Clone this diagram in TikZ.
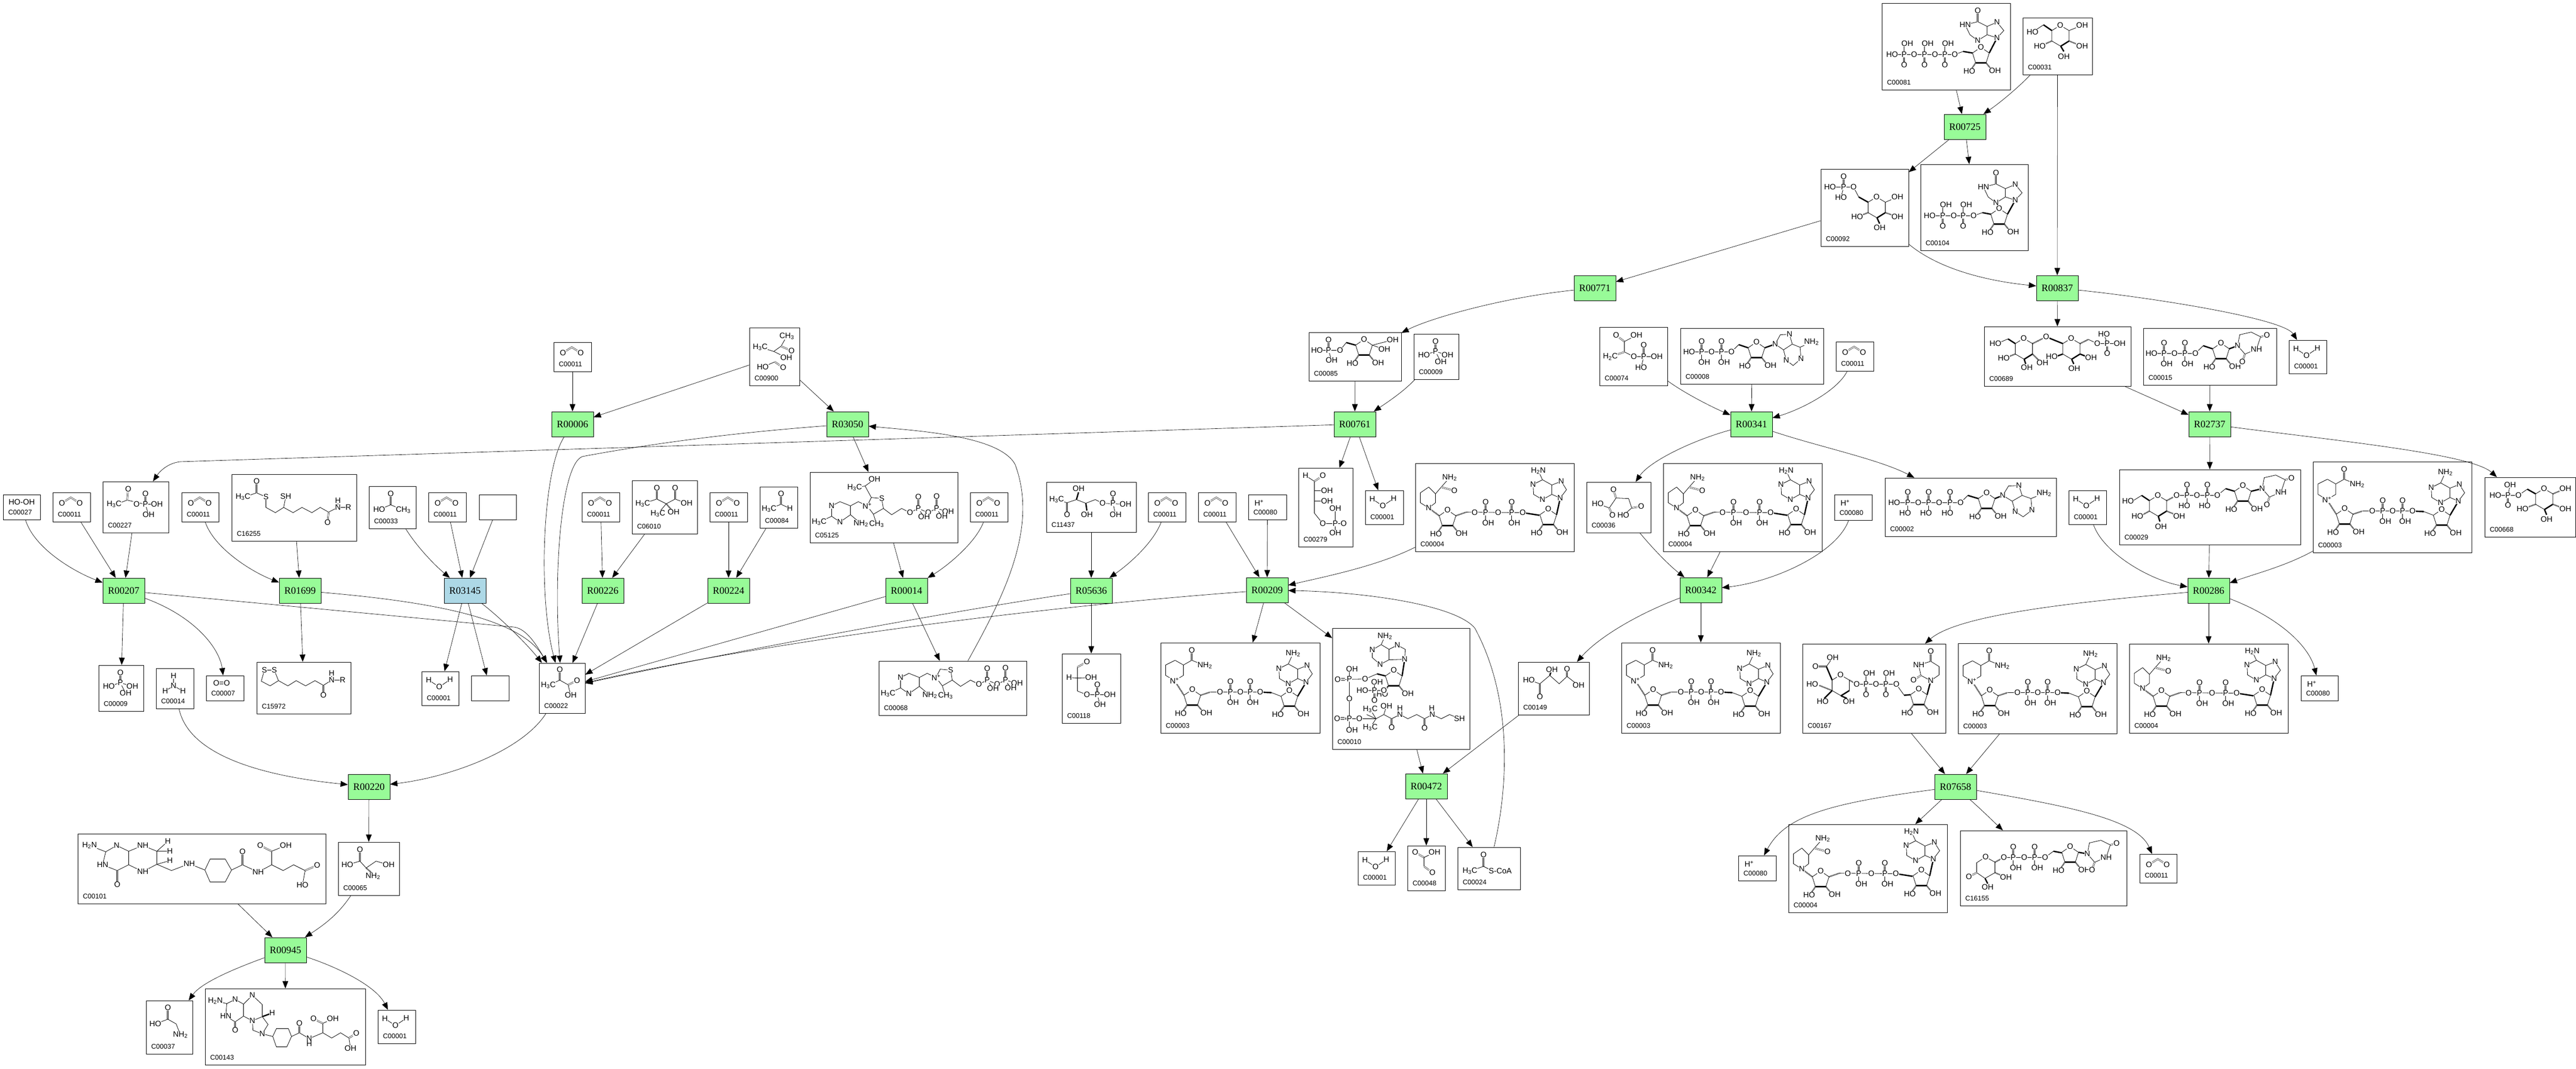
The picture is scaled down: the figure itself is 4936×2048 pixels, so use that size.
\documentclass[tikz,border=0pt]{standalone}
\usepackage{fontspec}
\setmainfont{Liberation Sans}
\newfontfamily\rfont{Liberation Serif}
\usetikzlibrary{arrows.meta,fit,calc}
\definecolor{rxngreen}{HTML}{98FB98}
\definecolor{rxnblue}{HTML}{ADD8E6}
\def\atm(#1)#2{\node[atom] at (#1) {#2};}
\def\bd#1{\draw[bond] plot coordinates {#1};}
\def\dbd#1{\draw[dbond] plot coordinates {#1};}
\def\wdg#1{\draw[wbond] plot coordinates {#1};}
\def\hsh#1{\draw[hbond] plot coordinates {#1};}
\newcommand{\NHtwo}{NH\textsubscript{2}}
\newcommand{\HtwoN}{H\textsubscript{2}N}
\newcommand{\HCthree}{H\textsubscript{3}C}
\newcommand{\CHthree}{CH\textsubscript{3}}
\newcommand{\cpd}[7]{%
  \node[cpd,fit={(#2,#3) (#4,#5)}] (#1) {};
  \node[cid] (#1id) at ($(#1.south west)+(10,-14)$) {#6};
  \pic at (#1.north west) {#7};}
\tikzset{
  cpd/.style={draw,rectangle,inner sep=0pt,line width=0.8pt},
  rxn/.style={draw,rectangle,fill=rxngreen,minimum width=80pt,minimum height=48pt,inner sep=0pt,
    line width=0.8pt,font=\rfont\fontsize{19}{19}\selectfont},
  cid/.style={anchor=west,inner sep=0pt,font=\fontsize{13}{13}\selectfont},
  atom/.style={fill=white,inner sep=0.4pt,font=\fontsize{15}{15}\selectfont},
  bond/.style={line width=0.8pt},
  dbond/.style={line width=0.6pt,double=white,double distance=1.6pt},
  wbond/.style={line width=2.6pt},
  hbond/.style={line width=2.6pt,dash pattern=on 0.7pt off 0.9pt},
  flow/.style={-{Triangle[length=14pt,width=11pt]},line width=0.65pt},
  % building blocks
  pho/.pic={\dbd{(0,0) (0,-20)}\bd{(0,0) (0,20)}\atm(0,0){P}\atm(0,-20){O}\atm(5,20){OH}},
  phoh/.pic={\dbd{(0,0) (0,-20)}\bd{(0,0) (0,20)}\atm(0,0){P}\atm(0,-20){O}\atm(-5,20){HO}},
  phoup/.pic={\dbd{(0,0) (0,20)}\bd{(0,0) (0,-20)}\atm(0,0){P}\atm(0,20){O}\atm(6,-21){OH}},
  ribose/.pic={\bd{(-16,11) (0,0) (16,11) (10,30)}\bd{(-10,30) (-16,11)}\wdg{(-10,30) (10,30)}
    \hsh{(-10,30) (-17,40)}\hsh{(10,30) (18,40)}\atm(0,0){O}\atm(-22,46){HO}\atm(27,45){OH}},
  hexose/.pic={\bd{(-16,10) (0,0) (17,10) (17,30)}\bd{(1,40) (-16,30) (-16,10)}\wdg{(17,30) (1,40)}\atm(0,0){O}},
  adenine/.pic={\bd{(0,0) (12,-16) (2,-32) (-16,-25) (-34,-35) (-52,-26) (-51,-7) (-34,3) (-16,-7) (0,0)}\bd{(-16,-7) (-16,-25)}
    \atm(0,0){N}\atm(2,-32){N}\atm(-52,-26){N}\atm(-34,3){N}},
  adenineR/.pic={\bd{(0,0) (11,-18) (31,-19) (37,0) (18,11) (0,0)}\bd{(37,0) (54,6) (56,28) (39,41) (24,31) (18,11)}\bd{(54,6) (79,-4)}
    \atm(0,0){N}\atm(31,-19){N}\atm(56,28){N}\atm(24,31){N}\atm(79,-4){\NHtwo}},
  hypox/.pic={\bd{(0,0) (13,-14) (0,-30) (-19,-22) (-37,-31) (-61,-25) (-52,-6) (-37,5) (-19,-6) (0,0)}\bd{(-19,-6) (-19,-22)}\dbd{(-37,-31) (-37,-52)}
    \atm(0,0){N}\atm(0,-30){N}\atm(-37,5){N}\atm(-61,-25){HN}\atm(-37,-52){O}},
  uracil/.pic={\bd{(0,0) (4,-21) (26,-26) (44,-17) (36,7) (14,16) (0,0)}\dbd{(44,-17) (56,-20)}\dbd{(14,16) (9,31)}
    \atm(0,0){N}\atm(36,7){NH}\atm(56,-20){O}\atm(9,31){O}},
  % small compounds
  mco2/.pic={\dbd{(22,18) (35,10) (48,18)}\atm(18,21){O}\atm(52,21){O}},
  mh2o/.pic={\bd{(14,17) (34,30) (55,16)}\atm(14,17){H}\atm(34,30){O}\atm(55,16){H}},
  mhp/.pic={\atm(21,16){H\textsuperscript{+}}},
  mhoh/.pic={\atm(36,15){HO-OH}},
  moo/.pic={\atm(30,15){O=O}},
  mnh3/.pic={\bd{(34,15) (34,34)}\bd{(18,44) (34,34) (52,44)}\atm(34,15){H}\atm(34,34){N}\atm(18,44){H}\atm(52,44){H}},
  mpi/.pic={\dbd{(42,15) (42,34)}\bd{(20,41) (42,34) (65,41)}\bd{(42,34) (52,54)}
    \atm(42,15){O}\atm(42,34){P}\atm(20,41){HO}\atm(65,41){OH}\atm(52,54){OH}},
  macp/.pic={\bd{(31,42) (47,36) (82,44) (104,44)}\dbd{(47,36) (49,15)}\dbd{(82,44) (82,24)}\bd{(82,44) (88,64)}
    \atm(49,15){O}\atm(22,44){\HCthree}\atm(65,44){O}\atm(82,44){P}\atm(82,24){O}\atm(104,44){OH}\atm(88,64){OH}},
  mlips/.pic={\bd{(31,42) (48,36) (66,44) (66,64) (84,74) (100,64) (118,74) (135,64) (154,74) (170,64) (186,73) (204,64) (224,64)}\dbd{(48,36) (48,14)}\bd{(100,64) (104,43)}\bd{(204,64) (204,51)}\dbd{(186,73) (184,93)}
    \atm(48,14){O}\atm(22,44){\HCthree}\atm(66,44){S}\atm(104,43){SH}\atm(204,51){H}\atm(204,64){N}\atm(224,64){R}\atm(184,93){O}},
  mlipo/.pic={\bd{(15,16) (34,16) (42,36) (26,46) (9,37) (15,16)}\bd{(42,36) (60,46) (76,36) (94,46) (112,36) (128,45) (144,35) (165,35)}\bd{(144,35) (144,22)}\dbd{(128,45) (128,64)}
    \atm(15,16){S}\atm(34,16){S}\atm(144,22){H}\atm(144,35){N}\atm(165,35){R}\atm(128,64){O}},
  mace/.pic={\dbd{(42,15) (42,36)}\bd{(20,45) (42,36) (66,46)}\atm(42,15){O}\atm(20,45){HO}\atm(66,46){\CHthree}},
  mpyr/.pic={\dbd{(40,13) (40,33)}\bd{(18,43) (40,33) (56,42) (61,62)}\dbd{(56,42) (73,34)}\atm(40,13){O}\atm(18,43){\HCthree}\atm(73,34){O}\atm(61,62){OH}},
  mact/.pic={\bd{(21,45) (48,36) (66,45) (83,36) (105,44)}\dbd{(48,36) (48,15)}\dbd{(83,36) (83,15)}\bd{(66,45) (50,64)}\hsh{(66,45) (80,61)}
    \atm(48,15){O}\atm(83,15){O}\atm(21,45){\HCthree}\atm(105,44){OH}\atm(50,64){\HCthree}\atm(80,61){OH}},
  mald/.pic={\bd{(18,43) (41,34) (58,42)}\dbd{(41,34) (41,14)}\atm(41,14){O}\atm(18,43){\HCthree}\atm(58,42){H}},
  mpyf/.pic={\bd{(21,38) (47,46) (61,36) (72,17)}\dbd{(61,36) (81,45)}\bd{(47,46) (71,58)}\bd{(26,76) (49,66)}\dbd{(49,66) (65,77)}
    \atm(72,17){\CHthree}\atm(21,38){\HCthree}\atm(81,45){O}\atm(71,58){OH}\atm(26,76){HO}\atm(65,77){O}},
  mtpp/.pic={\bd{(42,32) (58,24) (78,32) (78,49) (58,63) (42,52) (42,32)}\bd{(42,52) (18,63)}\bd{(78,49) (98,66)}\bd{(78,32) (93,24) (110,32)}
    \bd{(110,32) (118,16) (138,18) (141,37) (122,48) (110,32)}\bd{(122,48) (128,67)}\bd{(141,37) (157,49) (176,37) (192,45) (208,37) (227,45) (243,37) (265,43)}
    \dbd{(208,37) (208,15)}\dbd{(243,37) (243,14)}\bd{(208,37) (219,53)}\bd{(243,37) (253,52)}
    \atm(42,32){N}\atm(58,63){N}\atm(18,63){\HCthree}\atm(98,66){\NHtwo}\atm(110,32){N\textsuperscript{+}}\atm(138,18){S}\atm(128,67){\CHthree}
    \atm(192,45){O}\atm(208,37){P}\atm(208,15){O}\atm(227,45){O}\atm(243,37){P}\atm(243,14){O}\atm(219,53){OH}\atm(265,43){OH}\atm(253,52){OH}},
  mhet/.pic={\pic at (0,33) {mtpp};\bd{(118,49) (106,27) (124,14)}\bd{(106,27) (86,30)}\atm(124,14){OH}\atm(86,30){\HCthree}},
  mdxp/.pic={\bd{(20,34) (40,40) (58,34) (76,41) (94,34) (108,41) (152,43)}\dbd{(40,40) (40,63)}\wdg{(58,34) (62,20)}\wdg{(76,41) (78,55)}\dbd{(128,41) (128,23)}\bd{(128,41) (133,63)}
    \atm(20,34){\HCthree}\atm(40,63){O}\atm(62,13){OH}\atm(78,63){OH}\atm(108,41){O}\atm(128,41){P}\atm(128,23){O}\atm(152,43){OH}\atm(133,63){OH}},
  mgap/.pic={\bd{(30,47) (30,26)}\dbd{(30,26) (48,16)}\bd{(14,46) (30,47) (56,46)}\bd{(30,47) (30,72) (48,79) (92,79)}\dbd{(68,79) (68,60)}\bd{(68,79) (73,98)}
    \atm(48,16){O}\atm(14,46){H}\atm(56,46){OH}\atm(48,79){O}\atm(68,79){P}\atm(68,60){O}\atm(92,79){OH}\atm(73,98){OH}},
  mf6p/.pic={\pic at (106,14) {ribose};\bd{(122,25) (145,33)}\bd{(122,25) (161,15)}\wdg{(90,25) (72,20)}\bd{(72,20) (60,35) (16,35)}\dbd{(38,35) (38,15)}\bd{(38,35) (44,54)}
    \atm(161,15){OH}\atm(145,33){OH}\atm(60,35){O}\atm(38,35){P}\atm(38,15){O}\atm(16,35){HO}\atm(44,54){OH}},
  mr5p/.pic={\bd{(31,26) (31,87) (47,107) (87,107)}\bd{(14,15) (31,26)}\dbd{(31,26) (47,15)}\bd{(31,44) (55,44)}\bd{(31,64) (55,64)}\bd{(71,107) (71,78)}\bd{(71,107) (71,125)}
    \atm(14,15){H}\atm(47,15){O}\atm(55,44){OH}\atm(55,64){OH}\atm(47,107){O}\atm(71,107){P}\atm(71,78){OH}\atm(87,107){O}\atm(71,125){OH}},
  mpep/.pic={\dbd{(48,28) (32,16)}\bd{(48,28) (71,16)}\bd{(48,28) (48,48) (66,57) (110,57)}\dbd{(48,48) (21,57)}\dbd{(85,57) (85,35)}\bd{(85,57) (80,78)}
    \atm(32,16){O}\atm(71,16){OH}\atm(21,57){H\textsubscript{2}C}\atm(66,57){O}\atm(85,57){P}\atm(85,35){O}\atm(110,57){OH}\atm(80,78){HO}},
  moxa/.pic={\bd{(22,42) (44,50) (57,31) (81,32) (87,50) (71,64)}\dbd{(57,31) (52,15)}\dbd{(44,50) (50,64)}\dbd{(87,50) (105,47)}
    \atm(52,15){O}\atm(22,42){HO}\atm(50,64){O}\atm(105,47){O}\atm(71,64){HO}},
  mmal/.pic={\bd{(21,35) (42,42) (61,26) (79,42) (94,28) (116,45)}\dbd{(42,42) (42,67)}\wdg{(61,26) (64,17)}\dbd{(94,28) (94,14)}
    \atm(65,15){OH}\atm(94,14){O}\atm(21,35){HO}\atm(42,67){O}\atm(116,45){OH}},
  mgly/.pic={\dbd{(15,13) (32,23)}\bd{(52,13) (32,23) (32,40)}\dbd{(32,40) (48,52)}\atm(15,13){O}\atm(52,13){OH}\atm(48,52){O}},
  mcoa/.pic={\dbd{(50,37) (50,15)}\bd{(24,46) (50,37) (68,46)}\atm(50,15){O}\atm(24,46){\HCthree}\atm(82,46){S-CoA}},
  mcoash/.pic={\bd{(94,32) (77,42) (77,57) (92,70) (109,61) (109,41) (94,32)}\bd{(109,41) (125,33) (140,41) (139,60) (109,61)}\bd{(94,32) (101,16)}
    \pic at (118,81) {ribose};\wdg{(134,92) (139,60)}
    \wdg{(102,92) (86,88)}\bd{(86,88) (63,98) (15,99)}\bd{(33,79) (33,196)}\dbd{(14,174) (33,174)}\bd{(33,174) (84,174) (66,166)}
    \bd{(99,120) (58,120)}\bd{(81,104) (81,120)}\dbd{(81,120) (81,139)}\bd{(108,111) (99,120)}
    \bd{(84,174) (73,156)}\bd{(84,174) (73,191)}\bd{(84,174) (99,166) (114,174) (130,166) (145,174) (162,166) (177,174) (192,166) (209,174) (225,166) (244,174)}\dbd{(114,174) (114,191)}\dbd{(177,174) (177,192)}\bd{(99,166) (104,150)}
    \atm(101,16){\NHtwo}\atm(77,42){N}\atm(92,70){N}\atm(125,33){N}\atm(139,60){N}
    \atm(38,79){OH}\atm(33,98){P}\atm(15,99){O=}\atm(63,98){O}\atm(33,136){O}\atm(33,174){P}\atm(14,174){O=}\atm(38,196){OH}\atm(52,174){O}
    \atm(99,120){O}\atm(81,120){P}\atm(58,120){HO}\atm(86,104){OH}\atm(81,139){O}
    \atm(73,156){\HCthree}\atm(73,191){\HCthree}\atm(104,150){OH}\atm(114,191){O}\atm(130,166){N}\atm(130,154){H}\atm(177,192){O}\atm(192,166){N}\atm(191,154){H}\atm(244,174){SH}},
  % nucleotides
  mnad/.pic={\bd{(28,34) (44,43) (44,63) (27,73) (10,63) (10,43) (28,34)}\bd{(44,43) (60,34) (85,44)}\dbd{(60,34) (60,15)}\hsh{(27,73) (45,101)}
    \pic at (61,90) {ribose};\hsh{(77,101) (95,95)}\bd{(95,95) (191,95)}\wdg{(191,95) (213,96)}\bd{(213,96) (231,103)}
    \pic at (134,95) {pho};\pic at (172,95) {pho};\pic at (247,92) {ribose};\wdg{(263,103) (279,76)}\pic at (279,76) {adenine};\bd{(245,41) (254,21)}
    \atm(27,73){N\textsuperscript{+}}\atm(60,15){O}\atm(85,44){\NHtwo}\atm(114,95){O}\atm(153,95){O}\atm(191,95){O}\atm(254,21){\NHtwo}},
  mnadh/.pic={\bd{(26,46) (39,59) (39,76) (26,86) (10,76) (10,57) (26,46)}\bd{(39,59) (50,46) (66,28)}\dbd{(50,46) (75,53)}\hsh{(26,86) (46,101)}
    \pic at (62,90) {ribose};\hsh{(78,101) (98,94)}\bd{(98,94) (206,95)}\wdg{(206,95) (238,100)}
    \pic at (135,95) {pho};\pic at (185,95) {pho};\pic at (255,88) {ribose};\wdg{(271,99) (278,67)}\pic at (278,67) {adenine};\bd{(244,32) (236,15)}
    \atm(26,86){N}\atm(75,53){O}\atm(66,28){\NHtwo}\atm(114,95){O}\atm(159,95){O}\atm(206,95){O}\atm(236,15){\HtwoN}},
  matp/.pic={\bd{(18,48) (145,48) (159,34)}\wdg{(159,34) (179,40)}\pic at (44,48) {phoh};\pic at (84,48) {phoh};\pic at (125,48) {phoh};
    \pic at (195,29) {ribose};\wdg{(211,40) (226,34)}\pic at (226,34) {adenineR};
    \atm(18,48){HO}\atm(64,48){O}\atm(104,48){O}\atm(145,48){O}},
  madp/.pic={\bd{(17,46) (98,46) (112,32)}\wdg{(112,32) (130,38)}\pic at (41,46) {pho};\pic at (79,46) {pho};
    \pic at (146,27) {ribose};\wdg{(162,38) (182,31)}\pic[xscale=0.88] at (182,31) {adenineR};
    \atm(17,46){HO}\atm(60,46){O}\atm(98,46){O}},
  mudp/.pic={\bd{(16,49) (100,49) (115,34)}\wdg{(115,34) (133,40)}\pic at (40,49) {pho};\pic at (80,49) {pho};
    \pic at (149,29) {ribose};\wdg{(165,40) (181,34)}\pic at (181,34) {uracil};
    \atm(16,49){HO}\atm(60,49){O}\atm(100,49){O}},
  mudpg/.pic={\pic at (74,50) {hexose};\wdg{(58,60) (43,50)}\bd{(43,50) (27,60)}\hsh{(58,80) (45,87)}\wdg{(75,90) (78,100)}\hsh{(91,80) (108,87)}
    \hsh{(91,60) (110,50)}\bd{(110,50) (188,50) (204,37)}\wdg{(204,37) (221,42)}\pic at (130,50) {phoh};\pic at (169,50) {phoh};
    \pic at (237,31) {ribose};\wdg{(253,42) (274,37)}\pic at (274,37) {uracil};
    \atm(17,61){HO}\atm(35,90){HO}\atm(115,90){OH}\atm(80,110){OH}\atm(110,50){O}\atm(149,50){O}\atm(188,50){O}},
  mudpgl/.pic={\pic at (73,60) {hexose};\wdg{(57,70) (46,44)}\dbd{(46,44) (25,44)}\bd{(46,44) (58,27)}\hsh{(57,90) (32,80)}\wdg{(57,90) (42,105)}\wdg{(74,100) (85,105)}
    \hsh{(90,70) (104,78)}\bd{(104,78) (180,78) (195,99)}\pic at (122,78) {phoup};\pic at (160,78) {phoup};\wdg{(195,99) (207,98)}
    \pic at (223,87) {ribose};\wdg{(239,98) (246,71)}\bd{(246,71) (262,60) (262,44) (246,34) (223,41) (227,61) (246,71)}\dbd{(246,34) (246,15)}\dbd{(227,61) (213,70)}
    \atm(25,44){O}\atm(58,27){OH}\atm(19,78){HO}\atm(39,111){HO}\atm(89,111){OH}\atm(104,78){O}\atm(141,78){O}\atm(180,78){O}
    \atm(246,71){N}\atm(246,15){O}\atm(223,41){NH}\atm(213,70){O}},
  mudpk/.pic={\bd{(49,51) (67,61) (67,81) (48,92) (32,81) (32,62) (49,51)}\dbd{(32,81) (17,89)}\wdg{(48,92) (53,102)}\hsh{(67,81) (88,90)}
    \hsh{(67,61) (84,52)}\bd{(84,52) (163,52) (179,40)}\wdg{(179,40) (195,43)}\pic at (102,52) {pho};\pic at (143,52) {pho};
    \pic at (211,31) {ribose};\wdg{(227,42) (244,45)}\pic at (244,45) {uracil};
    \atm(49,51){O}\atm(17,89){O}\atm(53,109){OH}\atm(88,90){OH}\atm(84,52){O}\atm(123,52){O}\atm(163,52){O}},
  mitp/.pic={\bd{(20,99) (140,99) (156,93)}\wdg{(156,93) (174,96)}\pic at (43,99) {phoup};\pic at (82,99) {phoup};\pic at (121,99) {phoup};
    \pic at (190,85) {ribose};\wdg{(206,96) (221,67)}\pic at (221,67) {hypox};
    \atm(20,99){HO}\atm(62,99){O}\atm(102,99){O}\atm(140,99){O}},
  midp/.pic={\bd{(18,99) (102,99) (119,93)}\wdg{(119,93) (135,96)}\pic at (43,99) {phoup};\pic at (82,99) {phoup};
    \pic at (151,85) {ribose};\wdg{(167,96) (182,69)}\pic at (182,69) {hypox};
    \atm(18,99){HO}\atm(64,99){O}\atm(102,99){O}},
  % sugars
  mglc/.pic={\pic at (72,15) {hexose};\wdg{(56,25) (40,14)}\bd{(40,14) (19,28)}\bd{(89,25) (114,15)}\hsh{(89,45) (114,55)}\wdg{(73,55) (79,65)}\hsh{(56,45) (33,55)}
    \atm(19,28){HO}\atm(114,15){OH}\atm(114,55){OH}\atm(33,55){HO}\atm(79,75){OH}},
  mg6p/.pic={\pic at (107,54) {hexose};\wdg{(91,64) (73,54)}\bd{(73,54) (63,35) (18,35)}\dbd{(44,35) (44,15)}\bd{(44,35) (39,55)}\bd{(124,64) (147,54)}\hsh{(124,84) (147,92)}\wdg{(108,94) (113,105)}\hsh{(91,84) (70,92)}
    \atm(44,15){O}\atm(44,35){P}\atm(18,35){HO}\atm(63,35){O}\atm(39,55){HO}\atm(147,54){OH}\atm(147,92){OH}\atm(113,113){OH}\atm(70,92){HO}},
  mm6p/.pic={\pic at (114,22) {hexose};\wdg{(98,32) (82,23)}\bd{(82,23) (65,35) (21,35)}\bd{(45,35) (49,15)}\dbd{(45,35) (45,54)}\hsh{(131,32) (155,22)}\hsh{(131,52) (155,61)}\wdg{(115,62) (119,72)}\hsh{(98,52) (73,61)}
    \atm(49,15){OH}\atm(45,35){P}\atm(21,35){HO}\atm(65,35){O}\atm(45,54){O}\atm(155,22){OH}\atm(155,61){OH}\atm(119,81){OH}\atm(73,61){HO}},
  mt6p/.pic={\pic at (76,23) {hexose};\wdg{(60,33) (46,24)}\bd{(46,24) (32,30)}\hsh{(60,53) (47,58)}\wdg{(77,63) (80,72)}\hsh{(93,53) (105,65)}\hsh{(93,33) (119,20)}\wdg{(119,20) (151,33)}
    \pic at (167,23) {hexose};\hsh{(184,33) (200,25)}\bd{(200,25) (217,33) (260,33)}\bd{(236,33) (230,15)}\dbd{(236,33) (236,52)}\wdg{(151,53) (140,57)}\wdg{(184,53) (197,58)}\wdg{(168,63) (172,72)}
    \atm(22,33){HO}\atm(38,61){HO}\atm(82,79){OH}\atm(112,70){OH}\atm(119,20){O}\atm(130,58){HO}\atm(205,60){OH}\atm(173,81){OH}\atm(217,33){O}\atm(236,33){P}\atm(230,15){HO}\atm(260,33){OH}\atm(236,52){O}},
  % folates and amino acids
  mthf/.pic={\bd{(23,23) (54,35) (75,23) (98,34) (98,60) (76,71) (48,60) (54,35)}\bd{(98,34) (125,23) (152,34) (152,59) (125,73) (98,60)}\dbd{(76,71) (76,98)}\bd{(152,34) (173,15)}\bd{(152,34) (177,34)}\bd{(152,59) (177,52)}\bd{(152,59) (180,71) (214,58) (244,70)}
    \bd{(244,70) (254,49) (283,49) (295,70) (283,93) (254,93) (244,70)}\bd{(295,70) (316,60) (346,74) (372,60) (394,71) (414,60) (436,71) (431,99)}\dbd{(316,60) (316,35)}\bd{(372,60) (372,34) (399,23)}\dbd{(372,34) (350,23)}\dbd{(436,71) (459,61)}
    \atm(23,23){\HtwoN}\atm(75,23){N}\atm(48,60){HN}\atm(76,98){O}\atm(125,23){NH}\atm(125,73){NH}\atm(173,15){H}\atm(177,34){H}\atm(177,52){H}\atm(214,58){NH}\atm(316,35){O}\atm(346,74){NH}\atm(350,23){O}\atm(399,23){OH}\atm(459,61){O}\atm(431,99){HO}},
  mmthf/.pic={\bd{(20,24) (42,29) (58,21) (74,30) (74,53) (58,64) (40,53) (42,29)}\bd{(74,30) (91,13) (110,31) (110,54) (91,62) (74,53)}\dbd{(58,64) (58,80)}\wdg{(110,54) (129,47)}\bd{(91,62) (92,80) (110,87) (121,69) (110,54)}\bd{(110,87) (130,92)}
    \bd{(130,92) (137,77) (160,77) (166,92) (157,112) (137,112) (130,92)}\bd{(166,92) (181,85) (200,96) (226,85) (243,95) (260,85) (276,95) (279,115)}\dbd{(181,85) (181,67)}\bd{(226,85) (226,67) (245,58)}\dbd{(226,67) (208,58)}\dbd{(276,95) (290,86)}
    \atm(20,24){\HtwoN}\atm(58,21){N}\atm(40,53){HN}\atm(58,80){O}\atm(91,13){N}\atm(129,47){H}\atm(91,62){N}\atm(110,87){N}\atm(181,67){O}\atm(200,96){N}\atm(200,106){H}\atm(208,58){O}\atm(245,58){OH}\atm(290,86){O}\atm(279,115){OH}},
  mser/.pic={\dbd{(42,15) (42,37)}\bd{(18,44) (42,37) (54,50) (73,37) (97,44)}\hsh{(54,50) (65,60)}\atm(42,15){O}\atm(18,44){HO}\atm(67,66){\NHtwo}\atm(97,44){OH}},
  mglyc/.pic={\dbd{(42,14) (42,36)}\bd{(18,45) (42,36) (58,45) (66,66)}\atm(42,14){O}\atm(18,45){HO}\atm(66,66){\NHtwo}}
}
\begin{document}
\begin{tikzpicture}[x=1pt,y=-1pt]
  \useasboundingbox (0,0) rectangle (4936,2048);
  % reactions
  \node[rxn] (r00725) at (3765,243) {R00725};
  \node[rxn] (r00771) at (3056,552) {R00771};
  \node[rxn] (r00837) at (3942,552) {R00837};
  \node[rxn] (r02737) at (4234,813) {R02737};
  \node[rxn] (r00006) at (1097,813) {R00006};
  \node[rxn] (r03050) at (1624,813) {R03050};
  \node[rxn] (r00761) at (2596,813) {R00761};
  \node[rxn] (r00341) at (3356,813) {R00341};
  \node[rxn] (r00207) at (237,1132) {R00207};
  \node[rxn] (r01699) at (575,1132) {R01699};
  \node[rxn,fill=rxnblue] (r03145) at (891,1132) {R03145};
  \node[rxn] (r00226) at (1155,1132) {R00226};
  \node[rxn] (r00224) at (1396,1132) {R00224};
  \node[rxn] (r00014) at (1737,1132) {R00014};
  \node[rxn] (r05636) at (2091,1132) {R05636};
  \node[rxn] (r00209) at (2428,1131) {R00209};
  \node[rxn] (r00342) at (3259,1131) {R00342};
  \node[rxn] (r00286) at (4232,1132) {R00286};
  \node[rxn] (r00472) at (2733,1507) {R00472};
  \node[rxn] (r07658) at (3747,1508) {R07658};
  \node[rxn] (r00220) at (707,1508) {R00220};
  \node[rxn] (r00945) at (547,1821) {R00945};
  % compounds
  \cpd{c00081}{3606}{6}{3852}{172}{C00081}{mitp}
  \cpd{c00031}{3876}{34}{4009}{143}{C00031}{mglc}
  \cpd{c00092}{3489}{324}{3657}{472}{C00092}{mg6p}
  \cpd{c00104}{3680}{315}{3886}{480}{C00104}{midp}
  \cpd{c00689}{3802}{626}{4083}{740}{C00689}{mt6p}
  \cpd{c00015}{4107}{629}{4362}{738}{C00015}{mudp}
  \cpd{c00001d}{4386}{652}{4458}{716}{C00001}{mh2o}
  \cpd{c00085}{2508}{637}{2685}{730}{C00085}{mf6p}
  \cpd{c00009b}{2709}{640}{2795}{727}{C00009}{mpi}
  \cpd{c00074}{3065}{627}{3195}{739}{C00074}{mpep}
  \cpd{c00008}{3220}{629}{3494}{736}{C00008}{madp}
  \cpd{c00011j}{3518}{655}{3590}{711}{C00011}{mco2}
  \cpd{c00011a}{1061}{656}{1133}{712}{C00011}{mco2}
  \cpd{c00900}{1436}{628}{1532}{739}{C00900}{mpyf}
  \cpd{c00027}{6}{948}{77}{996}{C00027}{mhoh}
  \cpd{c00011b}{101}{944}{173}{1000}{C00011}{mco2}
  \cpd{c00227}{197}{923}{323}{1021}{C00227}{macp}
  \cpd{c00011c}{348}{944}{419}{1000}{C00011}{mco2}
  \cpd{c16255}{444}{909}{683}{1037}{C16255}{mlips}
  \cpd{c00033}{707}{932}{797}{1013}{C00033}{mace}
  \cpd{c00011d}{821}{944}{893}{1000}{C00011}{mco2}
  \node[cpd,fit={(918,948) (989,996)}] (blanka) {};
  \cpd{c00011e}{1115}{944}{1187}{1000}{C00011}{mco2}
  \cpd{c06010}{1211}{921}{1336}{1023}{C06010}{mact}
  \cpd{c00011f}{1360}{944}{1432}{1000}{C00011}{mco2}
  \cpd{c00084}{1456}{933}{1528}{1012}{C00084}{mald}
  \cpd{c05125}{1552}{905}{1835}{1040}{C05125}{mhet}
  \cpd{c00011g}{1859}{944}{1931}{1000}{C00011}{mco2}
  \cpd{c11437}{2005}{924}{2177}{1020}{C11437}{mdxp}
  \cpd{c00011h}{2200}{944}{2272}{1000}{C00011}{mco2}
  \cpd{c00011i}{2296}{944}{2368}{1000}{C00011}{mco2}
  \cpd{c00080a}{2392}{948}{2465}{996}{C00080}{mhp}
  \cpd{c00279}{2488}{897}{2592}{1048}{C00279}{mr5p}
  \cpd{c00001b}{2616}{940}{2689}{1005}{C00001}{mh2o}
  \cpd{c00004a}{2712}{888}{3016}{1057}{C00004}{mnadh}
  \cpd{c00036}{3040}{924}{3163}{1021}{C00036}{moxa}
  \cpd{c00004b}{3187}{888}{3491}{1057}{C00004}{mnadh}
  \cpd{c00080b}{3515}{948}{3587}{997}{C00080}{mhp}
  \cpd{c00002}{3612}{916}{3940}{1028}{C00002}{matp}
  \cpd{c00001e}{3964}{940}{4036}{1005}{C00001}{mh2o}
  \cpd{c00029}{4061}{900}{4408}{1044}{C00029}{mudpg}
  \cpd{c00003d}{4432}{885}{4736}{1059}{C00003}{mnad}
  \cpd{c00668}{4761}{915}{4935}{1029}{C00668}{mm6p}
  \cpd{c00009a}{189}{1275}{275}{1363}{C00009}{mpi}
  \cpd{c00014}{299}{1281}{371}{1358}{C00014}{mnh3}
  \cpd{c00007}{395}{1295}{467}{1343}{C00007}{moo}
  \cpd{c15972}{492}{1269}{672}{1368}{C15972}{mlipo}
  \cpd{c00001a}{808}{1287}{879}{1352}{C00001}{mh2o}
  \node[cpd,fit={(903,1295) (975,1343)}] (blankb) {};
  \cpd{c00022}{1033}{1271}{1121}{1367}{C00022}{mpyr}
  \cpd{c00068}{1684}{1267}{1967}{1371}{C00068}{mtpp}
  \cpd{c00118}{2035}{1253}{2147}{1386}{C00118}{mgap}
  \cpd{c00003a}{2224}{1232}{2529}{1405}{C00003}{mnad}
  \cpd{c00010}{2553}{1204}{2816}{1436}{C00010}{mcoash}
  \cpd{c00149}{2909}{1269}{3045}{1370}{C00149}{mmal}
  \cpd{c00003b}{3107}{1232}{3411}{1405}{C00003}{mnad}
  \cpd{c00167}{3454}{1234}{3728}{1405}{C00167}{mudpgl}
  \cpd{c00003c}{3752}{1233}{4056}{1406}{C00003}{mnad}
  \cpd{c00004c}{4080}{1234}{4384}{1405}{C00004}{mnadh}
  \cpd{c00080c}{4409}{1295}{4480}{1343}{C00080}{mhp}
  \cpd{c00001c}{2602}{1632}{2673}{1696}{C00001}{mh2o}
  \cpd{c00048}{2697}{1621}{2769}{1707}{C00048}{mgly}
  \cpd{c00024}{2793}{1624}{2913}{1705}{C00024}{mcoa}
  \cpd{c00080d}{3331}{1640}{3403}{1688}{C00080}{mhp}
  \cpd{c00004d}{3427}{1580}{3731}{1749}{C00004}{mnadh}
  \cpd{c16155}{3756}{1592}{4075}{1736}{C16155}{mudpk}
  \cpd{c00011k}{4100}{1637}{4171}{1692}{C00011}{mco2}
  \cpd{c00101}{149}{1598}{624}{1732}{C00101}{mthf}
  \cpd{c00065}{648}{1614}{765}{1716}{C00065}{mser}
  \cpd{c00037}{280}{1918}{369}{2020}{C00037}{mglyc}
  \cpd{c00143}{393}{1895}{700}{2041}{C00143}{mmthf}
  \cpd{c00001f}{724}{1936}{796}{2000}{C00001}{mh2o}
  % kinks of the long connectors
  \coordinate (k1) at (345,885);
  \coordinate (k2) at (1116,875);
  \coordinate (k3) at (1945,890);
  \coordinate (k4) at (2826,1204);
  \coordinate (k5) at (985,1202);
  % connectors
  \draw[flow] (c00081) -- (r00725);
  \draw[flow] (c00031) .. controls (3870,165) and (3835,195) .. (r00725);
  \draw[flow] (c00031) -- (r00837);
  \draw[flow] (r00725) -- (c00092);
  \draw[flow] (r00725) -- (c00104);
  \draw[flow] (c00092) -- (r00771);
  \draw[flow] (c00092) .. controls (3720,520) and (3820,540) .. (r00837);
  \draw[flow] (r00771) .. controls (2880,570) and (2740,610) .. (c00085);
  \draw[flow] (c00085) -- (r00761);
  \draw[flow] (c00009b) .. controls (2690,750) and (2660,770) .. (r00761);
  \draw[flow] (r00761) -- (k1) .. controls (320,888) and (305,905) .. (c00227);
  \draw[flow] (r00761) -- (c00279);
  \draw[flow] (r00761) -- (c00001b);
  \draw[flow] (c00004a) .. controls (2640,1085) and (2540,1105) .. (r00209);
  \draw[flow] (c00024) .. controls (2885,1530) and (2905,1350) .. (k4) .. controls (2790,1160) and (2620,1135) .. (r00209);
  \draw[flow] (c00011a) -- (r00006);
  \draw[flow] (c00900) -- (r00006);
  \draw[flow] (c00900) -- (r03050);
  \draw[flow] (r00006) .. controls (1040,900) and (1030,1140) .. (c00022);
  \draw[flow] (r03050) .. controls (1400,830) and (1250,850) .. (k2) .. controls (1075,890) and (1060,1100) .. (c00022);
  \draw[flow] (r03050) -- (c05125);
  \draw[flow] (c05125) -- (r00014);
  \draw[flow] (c00011g) .. controls (1870,1040) and (1815,1085) .. (r00014);
  \draw[flow] (r00014) -- (c00022);
  \draw[flow] (r00014) -- (c00068);
  \draw[flow] (c00068) .. controls (1925,1140) and (1990,1010) .. (k3) .. controls (1915,835) and (1760,826) .. (r03050);
  \draw[flow] (r00224) -- (c00022);
  \draw[flow] (r05636) .. controls (1800,1175) and (1400,1250) .. (c00022);
  \draw[flow] (r00209) .. controls (1900,1170) and (1400,1245) .. (c00022);
  \draw[flow] (c11437) -- (r05636);
  \draw[flow] (c00011h) .. controls (2210,1040) and (2165,1080) .. (r05636);
  \draw[flow] (r05636) -- (c00118);
  \draw[flow] (c00011i) -- (r00209);
  \draw[flow] (c00080a) -- (r00209);
  \draw[flow] (r00209) -- (c00003a);
  \draw[flow] (r00209) -- (c00010);
  \draw[flow] (c00010) -- (r00472);
  \draw[flow] (c00149) -- (r00472);
  \draw[flow] (r00472) -- (c00001c);
  \draw[flow] (r00472) -- (c00048);
  \draw[flow] (r00472) -- (c00024);
  \draw[flow] (c00074) .. controls (3230,755) and (3280,780) .. (r00341);
  \draw[flow] (c00008) -- (r00341);
  \draw[flow] (c00011j) .. controls (3520,750) and (3450,785) .. (r00341);
  \draw[flow] (r00341) .. controls (3240,845) and (3160,885) .. (c00036);
  \draw[flow] (r00341) .. controls (3480,855) and (3600,880) .. (c00002);
  \draw[flow] (c00036) .. controls (3170,1055) and (3200,1085) .. (r00342);
  \draw[flow] (c00004b) -- (r00342);
  \draw[flow] (c00080b) .. controls (3520,1060) and (3400,1115) .. (r00342);
  \draw[flow] (r00342) .. controls (3130,1180) and (3060,1225) .. (c00149);
  \draw[flow] (r00342) -- (c00003b);
  \draw[flow] (r00837) -- (c00689);
  \draw[flow] (r00837) .. controls (4120,570) and (4375,610) .. (c00001d);
  \draw[flow] (c00689) -- (r02737);
  \draw[flow] (c00015) -- (r02737);
  \draw[flow] (r02737) -- (c00029);
  \draw[flow] (r02737) .. controls (4480,845) and (4735,870) .. (c00668);
  \draw[flow] (c00001e) .. controls (4030,1060) and (4120,1112) .. (r00286);
  \draw[flow] (c00029) -- (r00286);
  \draw[flow] (c00003d) .. controls (4380,1085) and (4320,1100) .. (r00286);
  \draw[flow] (r00286) .. controls (3960,1155) and (3750,1180) .. (c00167);
  \draw[flow] (r00286) -- (c00004c);
  \draw[flow] (r00286) .. controls (4370,1185) and (4425,1240) .. (c00080c);
  \draw[flow] (c00167) -- (r07658);
  \draw[flow] (c00003c) -- (r07658);
  \draw[flow] (r07658) .. controls (3500,1540) and (3420,1565) .. (c00080d);
  \draw[flow] (r07658) -- (c00004d);
  \draw[flow] (r07658) .. controls (3800,1555) and (3820,1575) .. (c16155);
  \draw[flow] (r07658) .. controls (3960,1545) and (4095,1570) .. (c00011k);
  \draw[flow] (c00027) .. controls (65,1050) and (140,1095) .. (r00207);
  \draw[flow] (c00011b) -- (r00207);
  \draw[flow] (c00227) -- (r00207);
  \draw[flow] (r00207) -- (k5) .. controls (1010,1205) and (1030,1240) .. (c00022);
  \draw[flow] (r00207) .. controls (370,1180) and (420,1240) .. (c00007);
  \draw[flow] (r00207) -- (c00009a);
  \draw[flow] (c00011c) .. controls (410,1050) and (480,1095) .. (r01699);
  \draw[flow] (c16255) -- (r01699);
  \draw[flow] (r01699) .. controls (850,1155) and (1000,1190) .. (c00022);
  \draw[flow] (r01699) -- (c15972);
  \draw[flow] (c00033) .. controls (800,1050) and (835,1085) .. (r03145);
  \draw[flow] (c00011d) -- (r03145);
  \draw[flow] (blanka) -- (r03145);
  \draw[flow] (r03145) -- (c00001a);
  \draw[flow] (r03145) -- (blankb);
  \draw[flow] (r03145) .. controls (960,1185) and (1010,1235) .. (c00022);
  \draw[flow] (c00011e) -- (r00226);
  \draw[flow] (c06010) -- (r00226);
  \draw[flow] (r00226) -- (c00022);
  \draw[flow] (c00011f) -- (r00224);
  \draw[flow] (c00084) -- (r00224);
  \draw[flow] (c00014) .. controls (360,1440) and (480,1485) .. (r00220);
  \draw[flow] (c00022) .. controls (1000,1440) and (860,1490) .. (r00220);
  \draw[flow] (r00220) -- (c00065);
  \draw[flow] (c00101) -- (r00945);
  \draw[flow] (c00065) .. controls (650,1750) and (625,1770) .. (r00945);
  \draw[flow] (r00945) .. controls (440,1860) and (385,1885) .. (c00037);
  \draw[flow] (r00945) -- (c00143);
  \draw[flow] (r00945) .. controls (650,1855) and (720,1890) .. (c00001f);
\end{tikzpicture}
\end{document}
